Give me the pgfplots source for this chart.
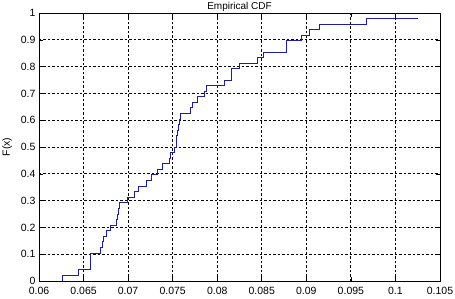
\documentclass[border=0pt]{standalone}
\usepackage{pgfplots}
\pgfplotsset{compat=1.18}
\usepackage{fontspec}
\setmainfont{Liberation Sans}
\definecolor{cdfblue}{RGB}{30,30,165}
\begin{document}
\begin{tikzpicture}[x=1pt,y=1pt]
\begin{axis}[
  name=ax,
  at={(0,0)},anchor=south west,
  width=401pt,height=268pt,scale only axis,
  xmin=0.06,xmax=0.105,ymin=0,ymax=1,
  scaled x ticks=false,scaled y ticks=false,
  xtick={0.06,0.065,0.07,0.075,0.08,0.085,0.09,0.095,0.1,0.105},
  xticklabels={0.06,0.065,0.07,0.075,0.08,0.085,0.09,0.095,0.1,0.105},
  ytick={0,0.1,0.2,0.3,0.4,0.5,0.6,0.7,0.8,0.9,1},
  yticklabels={0,0.1,0.2,0.3,0.4,0.5,0.6,0.7,0.8,0.9,1},
  tick label style={font=\fontsize{10.5}{12}\selectfont},
  tick align=inside,major tick length=4pt,
  xtick pos=both,ytick pos=both,
  grid=major,
  major grid style={black,line width=0.8pt,dash pattern=on 2.5pt off 2pt},
  axis line style={black,line width=0.9pt},
  every tick/.style={black,line width=0.6pt},
  ylabel={F(x)},
  ylabel style={font=\fontsize{10.5}{12}\selectfont,yshift=2pt},
  xticklabel style={yshift=-2.5pt},
  clip=false,
]
\addplot[const plot,color=cdfblue,line width=0.9pt,mark=none] coordinates {
(0.06261,0)
(0.06261,0.0208)
(0.06446,0.0417)
(0.06580,0.1042)
(0.06690,0.1250)
(0.06707,0.1458)
(0.06724,0.1667)
(0.06752,0.1875)
(0.06797,0.2083)
(0.06870,0.2292)
(0.06879,0.2500)
(0.06890,0.2708)
(0.06903,0.2917)
(0.06988,0.3125)
(0.07066,0.3333)
(0.07111,0.3542)
(0.07201,0.3750)
(0.07257,0.3958)
(0.07324,0.4167)
(0.07380,0.4375)
(0.07464,0.4583)
(0.07475,0.4792)
(0.07518,0.5000)
(0.07537,0.5208)
(0.07545,0.5417)
(0.07552,0.5625)
(0.07565,0.5833)
(0.07574,0.6042)
(0.07586,0.6250)
(0.07694,0.6458)
(0.07717,0.6667)
(0.07779,0.6875)
(0.07855,0.7083)
(0.07874,0.7292)
(0.08080,0.7500)
(0.08162,0.7917)
(0.08244,0.8125)
(0.08454,0.8333)
(0.08517,0.8542)
(0.08780,0.8958)
(0.08948,0.9167)
(0.09030,0.9375)
(0.09142,0.9583)
(0.09670,0.9792)
(0.10256,0.9792)
};
\end{axis}
\node[font=\fontsize{10}{12}\selectfont,anchor=base] at (200.5pt,271.5pt) {Empirical CDF};
\pgfresetboundingbox
\path[use as bounding box] (-39pt,-17pt) rectangle (416pt,281pt);
\end{tikzpicture}
\end{document}
